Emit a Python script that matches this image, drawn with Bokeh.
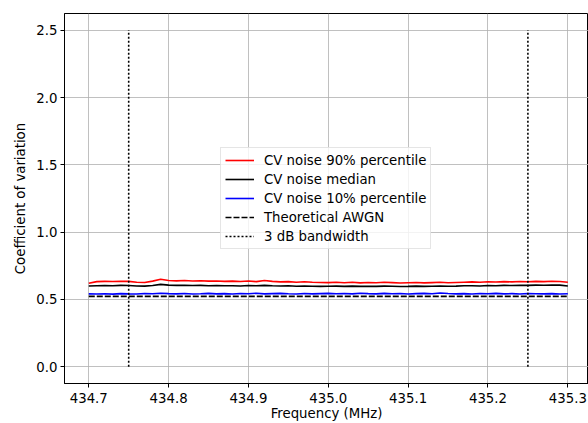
from bokeh.plotting import figure
from bokeh.models import Range1d, FixedTicker, NumeralTickFormatter, Legend, LegendItem
from bokeh.embed import file_html
from bokeh.resources import INLINE

# ---- data ----
freq_mhz = [434.70, 434.71, 434.72, 434.73, 434.74, 434.75, 434.76, 434.77, 434.78, 434.79,
            434.80, 434.81, 434.82, 434.83, 434.84, 434.85, 434.86, 434.87, 434.88, 434.89,
            434.90, 434.91, 434.92, 434.93, 434.94, 434.95, 434.96, 434.97, 434.98, 434.99,
            435.00, 435.01, 435.02, 435.03, 435.04, 435.05, 435.06, 435.07, 435.08, 435.09,
            435.10, 435.11, 435.12, 435.13, 435.14, 435.15, 435.16, 435.17, 435.18, 435.19,
            435.20, 435.21, 435.22, 435.23, 435.24, 435.25, 435.26, 435.27, 435.28, 435.29,
            435.30]

cv_p90 = [0.620, 0.632, 0.634, 0.633, 0.635, 0.634, 0.628, 0.626, 0.636, 0.650,
          0.640, 0.638, 0.640, 0.637, 0.639, 0.636, 0.637, 0.634, 0.636, 0.633,
          0.637, 0.632, 0.640, 0.634, 0.630, 0.632, 0.628, 0.631, 0.627, 0.626,
          0.625, 0.628, 0.624, 0.627, 0.623, 0.626, 0.624, 0.627, 0.625, 0.622,
          0.624, 0.626, 0.623, 0.625, 0.627, 0.624, 0.626, 0.628, 0.630, 0.627,
          0.631, 0.629, 0.632, 0.630, 0.633, 0.631, 0.634, 0.632, 0.635, 0.633,
          0.628]

cv_median = [0.600, 0.602, 0.603, 0.602, 0.604, 0.603, 0.600, 0.599, 0.603, 0.612,
             0.606, 0.604, 0.605, 0.603, 0.604, 0.602, 0.603, 0.601, 0.602, 0.600,
             0.603, 0.601, 0.604, 0.601, 0.600, 0.601, 0.598, 0.600, 0.598, 0.597,
             0.598, 0.599, 0.597, 0.599, 0.597, 0.598, 0.597, 0.599, 0.598, 0.596,
             0.597, 0.599, 0.597, 0.598, 0.600, 0.598, 0.599, 0.601, 0.602, 0.600,
             0.603, 0.602, 0.604, 0.603, 0.605, 0.604, 0.606, 0.605, 0.607, 0.606,
             0.600]

cv_p10 = [0.541, 0.540, 0.542, 0.539, 0.543, 0.541, 0.540, 0.544, 0.542, 0.546,
          0.543, 0.541, 0.544, 0.540, 0.542, 0.545, 0.541, 0.543, 0.540, 0.544,
          0.542, 0.546, 0.541, 0.543, 0.545, 0.542, 0.540, 0.544, 0.541, 0.543,
          0.545, 0.542, 0.544, 0.541, 0.546, 0.543, 0.541, 0.545, 0.542, 0.544,
          0.540, 0.543, 0.545, 0.542, 0.548, 0.544, 0.541, 0.543, 0.540, 0.544,
          0.542, 0.545, 0.541, 0.543, 0.540, 0.544, 0.542, 0.541, 0.543, 0.540,
          0.542]

awgn_freq = [434.70, 435.30]
awgn_cv = [0.5227, 0.5227]

bw_freq = [434.75, 435.25]
bw_low = [0.0, 0.0]
bw_high = [2.5, 2.5]

x_ticks = [434.7, 434.8, 434.9, 435.0, 435.1, 435.2, 435.3]
y_ticks = [0.0, 0.5, 1.0, 1.5, 2.0, 2.5]

FONT = "DejaVu Sans"
FS = "13.3px"

p = figure(width=588, height=423, output_backend="svg", toolbar_location=None,
           x_range=Range1d(434.6696, 435.3259), y_range=Range1d(-0.125, 2.625),
           min_border_left=64, min_border_right=0, min_border_top=13, min_border_bottom=39)

p.xaxis.axis_label = "Frequency (MHz)"
p.yaxis.axis_label = "Coefficient of variation"
p.xaxis.ticker = FixedTicker(ticks=x_ticks)
p.yaxis.ticker = FixedTicker(ticks=y_ticks)
p.xaxis.formatter = NumeralTickFormatter(format="0.0")
p.yaxis.formatter = NumeralTickFormatter(format="0.0")

for ax in (p.xaxis, p.yaxis):
    ax.axis_label_text_font = FONT
    ax.axis_label_text_font_size = FS
    ax.axis_label_text_font_style = "normal"
    ax.axis_label_text_color = "black"
    ax.major_label_text_font = FONT
    ax.major_label_text_font_size = FS
    ax.major_label_text_color = "black"
    ax.axis_line_color = "black"
    ax.major_tick_line_color = "black"
    ax.minor_tick_line_color = None
    ax.major_tick_in = 0
    ax.major_tick_out = 4

p.xaxis.major_label_standoff = 5
p.yaxis.major_label_standoff = 3
p.xaxis.axis_label_standoff = 0
p.yaxis.axis_label_standoff = 5

p.grid.grid_line_color = "#b0b0b0"
p.grid.grid_line_width = 0.8
p.outline_line_color = "black"
p.outline_line_width = 1
p.background_fill_color = "white"

r90 = p.line(freq_mhz, cv_p90, line_color="#ff0000", line_width=1.6)
rmed = p.line(freq_mhz, cv_median, line_color="black", line_width=1.6)
r10 = p.line(freq_mhz, cv_p10, line_color="#0000ff", line_width=1.6)
rawgn = p.line(awgn_freq, awgn_cv, line_color="black", line_width=1.6, line_dash="6 2")
rbw = p.segment(x0=bw_freq, y0=bw_low, x1=bw_freq, y1=bw_high,
                line_color="black", line_width=1.6, line_dash="2 2")

legend = Legend(items=[
    LegendItem(label="CV noise 90% percentile", renderers=[r90]),
    LegendItem(label="CV noise median", renderers=[rmed]),
    LegendItem(label="CV noise 10% percentile", renderers=[r10]),
    LegendItem(label="Theoretical AWGN", renderers=[rawgn]),
    LegendItem(label="3 dB bandwidth", renderers=[rbw]),
], location=(156, 134))
legend.label_text_font = FONT
legend.label_text_font_size = FS
legend.label_text_color = "black"
legend.glyph_width = 29
legend.glyph_height = 16
legend.label_height = 16
legend.label_standoff = 10
legend.spacing = 3
legend.padding = 4
legend.margin = 0
legend.border_line_color = "#cccccc"
legend.border_line_width = 1
legend.background_fill_alpha = 0.8
p.add_layout(legend, "center")

open("out.html", "w").write(file_html(p, INLINE))
